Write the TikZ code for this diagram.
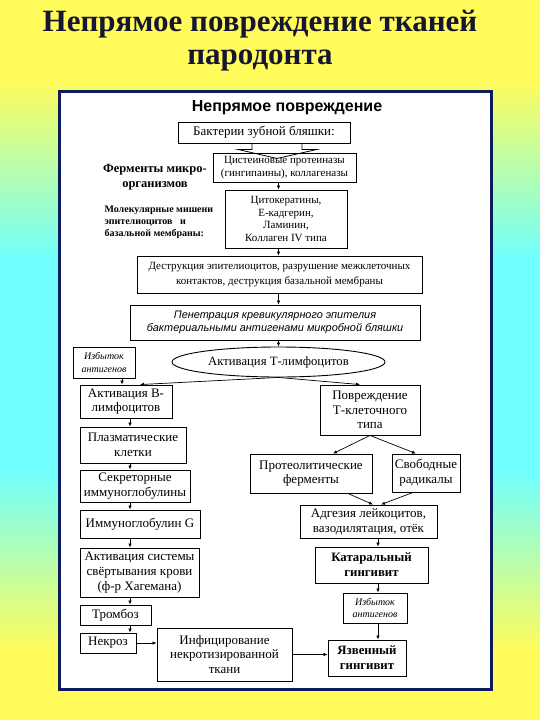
\documentclass[tikz,border=0pt]{standalone}
\usepackage{fontspec}
\setmainfont{Liberation Serif}
\setsansfont{Liberation Sans}
\usetikzlibrary{arrows.meta,shapes.geometric}

\definecolor{titleblue}{RGB}{22,22,50}
\definecolor{frameblue}{RGB}{12,28,92}
\definecolor{bgyellow}{RGB}{255,252,92}
\definecolor{bgcyan}{RGB}{112,255,255}

\pgfdeclareverticalshading{bgshade}{100bp}{color(0bp)=(bgyellow); color(29.86bp)=(bgyellow); color(42.36bp)=(bgcyan); color(56.94bp)=(bgcyan); color(69.44bp)=(bgyellow); color(100bp)=(bgyellow)}

\newcommand{\fs}[2]{\fontsize{#1}{#2}\selectfont}

\begin{document}
\begin{tikzpicture}
		[
			x=1pt, y=-1pt,
			box/.style={draw, fill=white, line width=0.9pt, inner sep=1pt, align=center},
			smallbox/.style={box, font=\fs{11}{12.5}},
			destrbox/.style={box, font=\fs{11}{15}},
			topbox/.style={box, font=\fs{13}{14}},
			colbox/.style={box, font=\fs{13}{14.7}},
			boldbox/.style={box, font=\bfseries\fs{12.8}{15}},
			excbox/.style={box, font=\itshape\fs{10}{12.5}},
			penbox/.style={box, font=\sffamily\itshape\fs{10.9}{13.5}},
			arr/.style={line width=0.7pt, -{Latex[length=4pt,width=3.5pt]}},
		]

		% Background
		\shade[shading=bgshade] (0,0) rectangle (540,720);
		\useasboundingbox (0,0) rectangle (540,720);

		% Title
		\node[font=\bfseries\fs{31}{35}, text=titleblue, anchor=base] (title1) at (260,31) {Непрямое повреждение тканей};
		\node[font=\bfseries\fs{31}{35}, text=titleblue, anchor=base] (title2) at (260,64) {пародонта};

		% Panel
		\draw[line width=3pt, draw=frameblue, fill=white] (59.5,91.5) rectangle (491.5,689.5);
		\node[font=\sffamily\bfseries\fs{16}{18}, anchor=base] (head) at (287,111) {Непрямое повреждение};

		% Side labels
		\node[font=\bfseries\fs{12.5}{15}, align=center] (ferm) at (155,177) {Ферменты микро-\\организмов};
		\node[font=\bfseries\fs{10}{12}, align=left, anchor=west] (targ) at (101,222) {Молекулярные мишени\\эпителиоцитов \ \ и\\базальной мембраны:};

		% Upper chain
		\node[topbox, minimum width=172, minimum height=21] (bact) at (264,132.5) {Бактерии зубной бляшки:};
		\node[smallbox, minimum width=143, minimum height=29] (cyst) at (284.5,167.5) {Цистеиновые протеиназы\\(гингипаины), коллагеназы};
		\node[smallbox, minimum width=122, minimum height=58] (cyto) at (286,219) {Цитокератины,\\Е-кадгерин,\\Ламинин,\\Коллаген IV типа};
		\node[destrbox, minimum width=285, minimum height=37] (destr) at (279.5,274.5) {Деструкция эпителиоцитов, разрушение межклеточных\\контактов, деструкция базальной мембраны};
		\node[penbox, minimum width=290, minimum height=35] (pen) at (275,322.5) {Пенетрация кревикулярного эпителия\\бактериальными антигенами микробной бляшки};
		\node[ellipse, draw, fill=white, line width=0.9pt, minimum width=213, minimum height=30, inner sep=0pt, font=\fs{12.7}{14}] (tact) at (278.5,362) {Активация Т-лимфоцитов};
		\node[excbox, minimum width=62, minimum height=31] (exc1) at (104,362.5) {Избыток\\антигенов};

		% Left column
		\node[colbox, minimum width=92, minimum height=33] (actB) at (126,401.5) {Активация В-\\лимфоцитов};
		\node[colbox, minimum width=106, minimum height=36] (plasma) at (133,445) {Плазматические\\клетки};
		\node[colbox, minimum width=110, minimum height=32] (secr) at (135,486) {Секреторные\\иммуноглобулины};
		\node[colbox, minimum width=120, minimum height=28] (igg) at (140,524) {Иммуноглобулин G};
		\node[colbox, minimum width=119, minimum height=49] (coag) at (139.5,572.5) {Активация системы\\свёртывания крови\\(ф-р Хагемана)};
		\node[colbox, minimum width=71, minimum height=20] (thromb) at (115.5,615) {Тромбоз};
		\node[colbox, minimum width=56, minimum height=20] (necr) at (108,643) {Некроз};
		\node[colbox, minimum width=135, minimum height=53] (infect) at (224.5,654.5) {Инфицирование\\некротизированной\\ткани};

		% Right column
		\node[colbox, minimum width=100, minimum height=50] (tdam) at (370,410) {Повреждение\\Т-клеточного\\типа};
		\node[colbox, minimum width=122, minimum height=39] (prot) at (311,473.5) {Протеолитические\\ферменты};
		\node[colbox, minimum width=68, minimum height=38] (rad) at (426,473) {Свободные\\радикалы};
		\node[colbox, minimum width=137, minimum height=33] (adh) at (368.5,521.5) {Адгезия лейкоцитов,\\вазодилятация, отёк};
		\node[boldbox, minimum width=113, minimum height=36] (cat) at (371.5,565) {Катаральный\\гингивит};
		\node[excbox, minimum width=64, minimum height=30] (exc2) at (375,608) {Избыток\\антигенов};
		\node[boldbox, minimum width=78, minimum height=36] (ulcer) at (367,658) {Язвенный\\гингивит};

		% Block arrow
		\draw[line width=0.8pt, shift={(bact.south)}] (-12,0) -- (-12,6) -- (-26,6) -- (13,15) -- (53,6) -- (38,6) -- (38,0);

		% Columns
		\coordinate (colE) at (122,0);
		\coordinate (colB) at (130,0);
		\coordinate (colT) at (378,0);

		% Arrows
		\foreach \u/\v in {cyst/cyto, cyto/destr, destr/pen}
			\draw[arr] (\u.south -| tact) -- (\v.north -| tact);
		\foreach \u/\v in {actB/plasma, plasma/secr, secr/igg, igg/coag, coag/thromb, thromb/necr}
			\draw[arr] (\u.south -| colB) -- (\v.north -| colB);
		\foreach \u/\v in {adh/cat, cat/exc2, exc2/ulcer}
			\draw[arr] (\u.south -| colT) -- (\v.north -| colT);

		\draw[arr] (pen.south -| tact) -- (tact.north);
		\draw[arr] (tact.south) -- ([xshift=14pt]actB.north);
		\draw[arr] (tact.south) -- ([xshift=-10pt]tdam.north);
		\draw[arr] (exc1.south -| colE) -- (actB.north -| colE);
		\draw[arr] (necr.east) -- (necr.east -| infect.west);
		\draw[arr] (infect.east) -- (infect.east -| ulcer.west);
		\draw[arr] (tdam.south) -- ([xshift=22pt]prot.north);
		\draw[arr] (tdam.south) -- ([xshift=-10pt]rad.north);
		\draw[arr] ([xshift=37pt]prot.south) -- ([xshift=4.5pt]adh.north);
		\draw[arr] ([xshift=-13pt]rad.south) -- ([xshift=12.5pt]adh.north);

\end{tikzpicture}
\end{document}
